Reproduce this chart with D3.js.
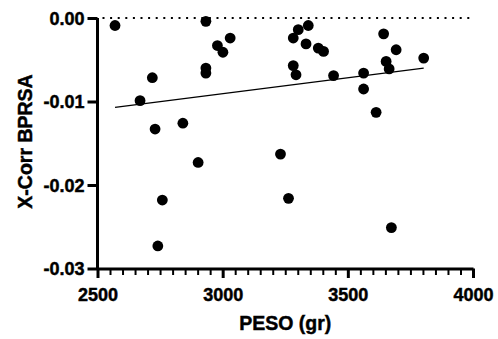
<!DOCTYPE html>
<html lang="en">
<head>
<meta charset="utf-8">
<title>X-Corr BPRSA vs PESO</title>
<script src="https://d3js.org/d3.v7.min.js"></script>
<style>
  body{margin:0;background:#fff;}
  svg text{font-family:"Liberation Sans",Arial,Helvetica,sans-serif;font-weight:bold;fill:#000;stroke:#000;stroke-width:0.45px;}
</style>
</head>
<body>
<div id="chart"></div>
<script>
// peso (gr) of each case
var peso = [2570,2719,2670,2730,2841,2902,2933,2933,2933,2979,3001,3030,2759,2741,
            3282,3302,3342,3333,3382,3403,3282,3293,3443,3563,3563,3613,3643,3693,
            3653,3665,3803,3231,3263,3674]
// x-corr bprsa of each case
var xcorr = [-0.0009,-0.00715,-0.0099,-0.0133,-0.0126,-0.0173,-0.0004,-0.006,-0.0066,-0.0033,-0.0041,-0.0024,-0.0218,-0.0273,
             -0.0024,-0.0014,-0.0009,-0.0031,-0.0036,-0.004,-0.0057,-0.0068,-0.0069,-0.0066,-0.0085,-0.0113,-0.0019,-0.0038,
             -0.0052,-0.0061,-0.0048,-0.0163,-0.0216,-0.0251]
// fitted line, ends
var fitX = [2570,3803]
var fitY = [-0.0107,-0.0060]
var xTicks = [2500,3000,3500,4000]
var yTicks = [-0.03,-0.02,-0.01,0]

var w = 498, h = 339
var x = d3.scaleLinear().domain([2500,4000]).range([97.5,473])
var y = d3.scaleLinear().domain([-0.03,0]).range([268.5,18])

var svg = d3.select("#chart").append("svg").attr("width",w).attr("height",h)

// dotted zero line
svg.append("line")
   .attr("x1",x(2500)+5).attr("x2",x(4000))
   .attr("y1",y(0)).attr("y2",y(0))
   .attr("stroke","#000").attr("stroke-width",2)
   .attr("stroke-dasharray","2,5.6")

// minor ticks on x
var minor = d3.range(2550,4000,50).filter(function(d){return d%500!==0})
svg.append("g").attr("transform","translate(0,"+y(-0.03)+")")
   .call(d3.axisBottom(x).tickValues(minor).tickSize(6.5).tickFormat(""))
   .call(function(g){g.select(".domain").remove()})
   .selectAll("line").attr("stroke","#000").attr("stroke-width",2)

var xAxis = svg.append("g")
   .attr("transform","translate(0,"+y(-0.03)+")")
   .call(d3.axisBottom(x).tickValues(xTicks).tickSize(9.5).tickSizeOuter(0).tickPadding(10)
        .tickFormat(d3.format("d")))
xAxis.select(".domain").attr("stroke-width",3)
xAxis.selectAll("line").attr("stroke-width",3)
xAxis.selectAll("text").style("font-size","18px")

var yAxis = svg.append("g")
   .attr("transform","translate("+x(2500)+",0)")
   .call(d3.axisLeft(y).tickValues(yTicks).tickSize(10).tickSizeOuter(0).tickPadding(3)
        .tickFormat(function(d){return d3.format(".2f")(d).replace("\u2212","-")}))
yAxis.select(".domain").attr("stroke-width",3).attr("d","M0,"+(y(-0.03)+1.5)+"V"+y(0))
yAxis.selectAll("line").attr("stroke-width",3)
yAxis.selectAll("text").style("font-size","18px").attr("dy","0.34em")

// regression line
svg.append("line")
   .attr("x1",x(fitX[0])).attr("y1",y(fitY[0]))
   .attr("x2",x(fitX[1])).attr("y2",y(fitY[1]))
   .attr("stroke","#000").attr("stroke-width",1.4)

svg.selectAll("circle").data(peso).enter().append("circle")
   .attr("cx",function(d){return x(d)})
   .attr("cy",function(d,i){return y(xcorr[i])})
   .attr("r",5.4).attr("fill","#000")

svg.append("text")
   .attr("x",(x(2500)+x(4000))/2).attr("y",330)
   .attr("text-anchor","middle").style("font-size","19.5px").text("PESO (gr)")

svg.append("text")
   .attr("transform","translate(32,"+141.5+") rotate(-90)")
   .attr("text-anchor","middle").style("font-size","19.5px").text("X-Corr BPRSA")
</script>
</body>
</html>
